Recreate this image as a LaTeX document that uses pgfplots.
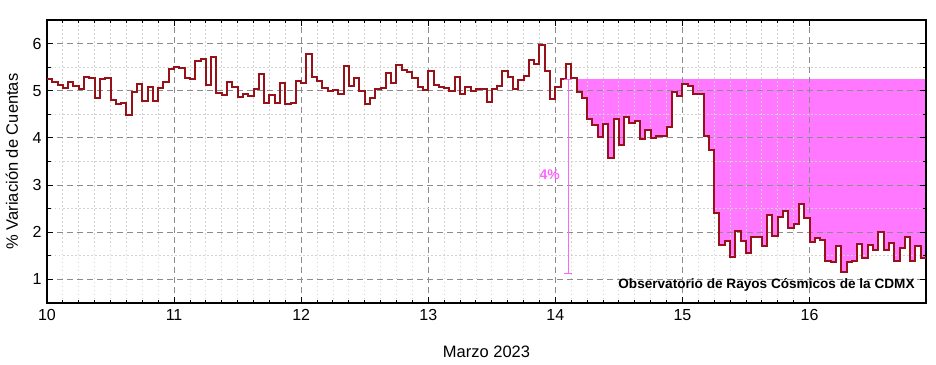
\documentclass[border=0pt]{standalone}
\usepackage{fontspec}
\setmainfont{Liberation Sans}
\usepackage{pgfplots}
\pgfplotsset{compat=1.18}
\usepackage{pgfplotstable}

\definecolor{linecol}{RGB}{150,18,24}
\definecolor{fillcol}{RGB}{255,120,255}
\definecolor{annot}{RGB}{255,100,255}

\pgfplotstableread{
h y
0 5.25
1 5.18
2 5.13
3 5.05
4 5.19
5 5.11
6 5.03
7 5.30
8 5.26
9 4.85
10 5.24
11 5.27
12 4.80
13 4.72
14 4.75
15 4.48
16 4.97
17 5.15
18 4.78
19 5.09
20 4.79
21 5.05
22 5.19
23 5.47
24 5.50
25 5.48
26 5.26
27 5.24
28 5.64
29 5.67
30 5.12
31 5.71
32 4.96
33 4.91
34 5.19
35 5.09
36 4.87
37 4.94
38 4.89
39 5.03
40 5.35
41 4.74
42 4.92
43 4.73
44 5.17
45 4.72
46 4.74
47 5.21
48 5.16
49 5.78
50 5.30
51 5.20
52 5.05
53 4.99
54 5.02
55 4.93
56 5.52
57 5.11
58 5.26
59 5.00
60 4.72
61 4.85
62 5.04
63 5.05
64 5.37
65 5.17
66 5.54
67 5.44
68 5.39
69 5.28
70 5.07
71 5.02
72 5.41
73 5.12
74 5.09
75 5.05
76 5.00
77 5.30
78 4.93
79 5.09
80 5.00
81 5.04
82 5.04
83 4.77
84 5.03
85 5.10
86 5.41
87 5.30
88 5.04
89 5.22
90 5.32
91 5.66
92 5.57
93 5.98
94 5.42
95 4.82
96 5.09
97 5.24
98 5.56
99 5.26
100 4.98
101 4.84
102 4.40
103 4.28
104 4.02
105 4.30
106 3.58
107 4.40
108 3.84
109 4.44
110 4.32
111 4.35
112 3.98
113 4.16
114 3.99
115 4.04
116 4.04
117 4.23
118 4.98
119 4.89
120 5.15
121 5.10
122 4.93
123 4.93
124 4.04
125 3.74
126 2.41
127 1.72
128 1.82
129 1.48
130 2.02
131 1.82
132 1.57
133 1.90
134 1.90
135 1.70
136 2.36
137 1.92
138 2.33
139 2.45
140 2.08
141 2.18
142 2.59
143 2.31
144 1.79
145 1.87
146 1.84
147 1.38
148 1.36
149 1.70
150 1.15
151 1.37
152 1.40
153 1.75
154 1.45
155 1.74
156 1.63
157 2.01
158 1.63
159 1.77
160 1.40
161 1.67
162 1.89
163 1.40
164 1.70
165 1.46
166 1.46
}\datatable

\begin{document}
\begin{tikzpicture}
\begin{axis}[
  set layers,
  at={(0pt,0pt)}, anchor=south west,
  scale only axis, width=879pt, height=283pt,
  xmin=10, xmax=16.9167, ymin=0.5, ymax=6.5,
  xtick={10,11,12,13,14,15,16}, ytick={1,2,3,4,5,6},
  minor x tick num=7, minor y tick num=1,
  tick align=inside, major tick length=6pt, minor tick length=3.5pt,
  grid=both,
  major grid style={gray!90, line width=1pt, dash pattern=on 6pt off 4pt},
  minor grid style={gray!35, line width=0.8pt, dash pattern=on 1.5pt off 2.5pt},
  axis line style={black, line width=1.2pt},
  tick style={black, line width=0.9pt},
  /pgf/number format/assume math mode=true,
  ticklabel style={font=\fontsize{16}{18}\selectfont},
  xticklabel style={yshift=-3pt},
  yticklabel style={xshift=-2pt},
  xlabel={Marzo 2023}, ylabel={\% Variación de Cuentas},
  label style={font=\fontsize{16.5}{19}\selectfont},
  xlabel style={at={(axis description cs:0.5,-0.173)}, anchor=center},
  ylabel style={at={(axis description cs:-0.040,0.5)}, anchor=center},
]
% magenta band below the 5.25 reference level
\addplot[draw=none, fill=fillcol, on layer=axis background]
  coordinates {(14.125,5.25) (16.9167,5.25)} \closedcycle;
% white area under the curve, leaving the gap between curve and level in magenta
\addplot[draw=none, fill=white, const plot, on layer=axis background,
  restrict x to domain=14.1:17]
  table[x expr=10+\thisrow{h}/24, y=y] {\datatable} \closedcycle;
\addplot[const plot, linecol, line width=2pt, line join=miter]
  table[x expr=10+\thisrow{h}/24, y=y] {\datatable};
\addplot[annot, line width=1pt, |-|] coordinates {(14.103,5.25) (14.103,1.12)};
\node[text=annot, font=\bfseries\fontsize{14}{16}\selectfont] at (axis cs:13.955,3.21) {4\%};
\node[anchor=east, font=\bfseries\fontsize{13.6}{15}\selectfont] at (axis cs:16.855,0.89) {Observatorio de Rayos Cósmicos de la CDMX};
\end{axis}
\pgfresetboundingbox
\useasboundingbox (-47pt,-61pt) rectangle (889pt,303pt);
\end{tikzpicture}
\end{document}
